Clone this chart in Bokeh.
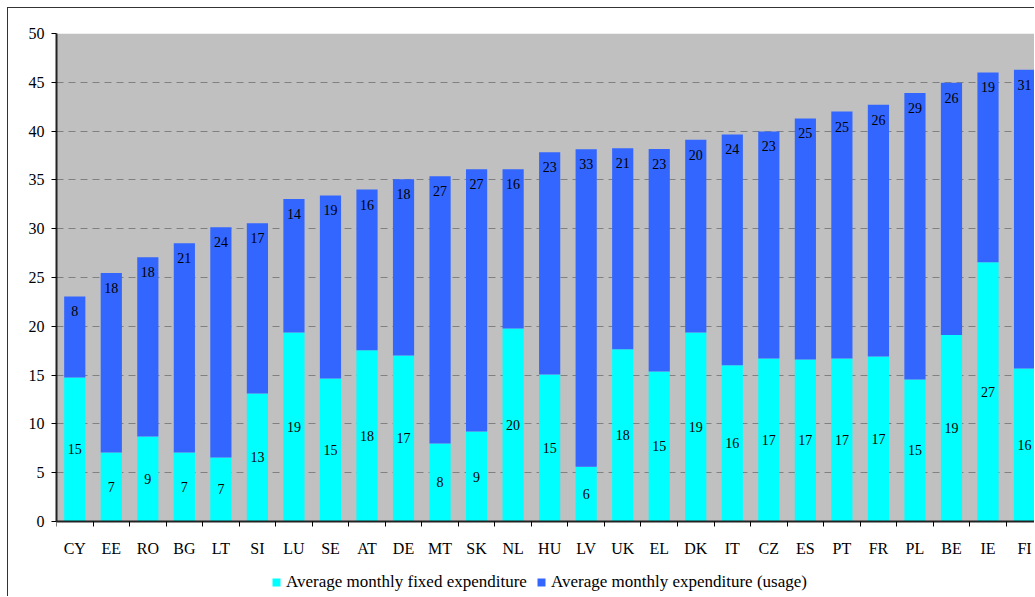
from bokeh.plotting import figure
from bokeh.models import (ColumnDataSource, FixedTicker, Range1d, Legend, LegendItem,
                          CustomJSTickFormatter, BoxAnnotation)
from bokeh.core.properties import value
from bokeh.embed import file_html
from bokeh.resources import INLINE

countries = ["CY", "EE", "RO", "BG", "LT", "SI", "LU", "SE", "AT", "DE", "MT", "SK", "NL", "HU",
             "LV", "UK", "EL", "DK", "IT", "CZ", "ES", "PT", "FR", "PL", "BE", "IE", "FI"]
fixed = [14.75, 7.05, 8.7, 7.05, 6.54, 13.1, 19.37, 14.65, 17.55, 17.0, 7.98, 9.2, 19.78, 15.06,
         5.6, 17.63, 15.37, 19.37, 15.99, 16.7, 16.6, 16.7, 16.9, 14.55, 19.1, 26.56, 15.68]
usage = [8.3, 18.4, 18.37, 21.45, 23.6, 17.45, 13.66, 18.75, 16.45, 18.07, 27.4, 26.9, 16.3, 22.77,
         32.55, 20.6, 22.8, 19.75, 23.66, 23.26, 24.7, 25.3, 25.8, 29.35, 25.84, 19.45, 30.6]
y_ticks = [0, 5, 10, 15, 20, 25, 30, 35, 40, 45, 50]
series_names = ["Average monthly fixed expenditure", "Average monthly expenditure (usage)"]

FONT = "'Liberation Serif', 'Times New Roman', serif"
CYAN = "#00FFFF"
BLUE = "#3366FF"

n = len(countries)
xs = [i + 0.5 for i in range(n)]
src = ColumnDataSource(dict(
    x=xs,
    fixed=fixed,
    usage=usage,
    fixed_mid=[f / 2 for f in fixed],
    total=[f + u for f, u in zip(fixed, usage)],
    fixed_lbl=[f"{f:.0f}" for f in fixed],
    usage_lbl=[f"{u:.0f}" for u in usage],
))

# frame spans the full height below the plot area; only the part above 0 is shaded grey
p = figure(width=1027, height=589, x_range=Range1d(0, 26.8), y_range=Range1d(-7.8, 50),
           output_backend="svg", toolbar_location=None,
           min_border_left=48, min_border_top=25, min_border_bottom=0, min_border_right=0)
p.styles = {"margin-left": "7px", "margin-top": "7px",
            "border-left": "1px solid #333333", "border-top": "1px solid #333333"}
p.background_fill_color = "white"
p.border_fill_color = "white"
p.outline_line_color = None

shade = BoxAnnotation(bottom=0, fill_color="#C0C0C0", fill_alpha=1, line_color=None,
                      level="underlay")
p.center = [shade] + list(p.center)   # painted before the grid lines

rs = p.vbar_stack(["fixed", "usage"], x="x", width=0.58, color=[CYAN, BLUE],
                  line_color=None, source=src)

p.text(x="x", y="fixed_mid", text="fixed_lbl", source=src, text_align="center",
       text_baseline="middle", text_font=value(FONT), text_font_size="14px", text_color="black")
p.text(x="x", y="total", text="usage_lbl", source=src, text_align="center",
       text_baseline="top", y_offset=10, text_font=value(FONT), text_font_size="14px",
       text_color="black")

# x axis at y=0: labels at centers, ticks at category boundaries
p.xaxis.fixed_location = 0
p.xaxis.ticker = FixedTicker(ticks=xs, minor_ticks=list(range(n)))
p.xaxis.formatter = CustomJSTickFormatter(args=dict(names=countries),
                                          code="return names[Math.floor(tick)] || '';")
p.xaxis.major_tick_line_color = None
p.xaxis.major_tick_out = 0
p.xaxis.major_tick_in = 0
p.xaxis.minor_tick_out = 5
p.xaxis.minor_tick_in = 0
p.xaxis.minor_tick_line_color = "black"
p.xaxis.major_label_standoff = 14
p.xaxis.major_label_text_font = FONT
p.xaxis.major_label_text_font_size = "16px"
p.xaxis.major_label_text_color = "black"
p.xaxis.axis_line_color = "#222222"
p.xaxis.axis_line_width = 2

p.yaxis.bounds = (0, 50)
p.yaxis.ticker = FixedTicker(ticks=y_ticks)
p.yaxis.major_tick_out = 5
p.yaxis.major_tick_in = 0
p.yaxis.minor_tick_line_color = None
p.yaxis.major_tick_line_color = "black"
p.yaxis.major_label_standoff = 7
p.yaxis.major_label_text_font = FONT
p.yaxis.major_label_text_font_size = "16px"
p.yaxis.major_label_text_color = "black"
p.yaxis.axis_line_color = "#222222"
p.yaxis.axis_line_width = 2

p.xgrid.visible = False
p.ygrid.ticker = FixedTicker(ticks=y_ticks)
p.ygrid.grid_line_color = "#808080"
p.ygrid.grid_line_dash = "7 5"
p.ygrid.grid_line_width = 1

legend = Legend(items=[LegendItem(label=series_names[0], renderers=[rs[0]]),
                       LegendItem(label=series_names[1], renderers=[rs[1]])],
                orientation="horizontal", location=(215, 5),
                label_text_font=FONT, label_text_font_size="17px", label_text_color="black",
                glyph_width=10, glyph_height=10, label_standoff=5, spacing=9,
                padding=0, margin=0,
                border_line_color=None, background_fill_alpha=0)
p.add_layout(legend, "center")

open("out.html", "w").write(file_html(p, INLINE))
